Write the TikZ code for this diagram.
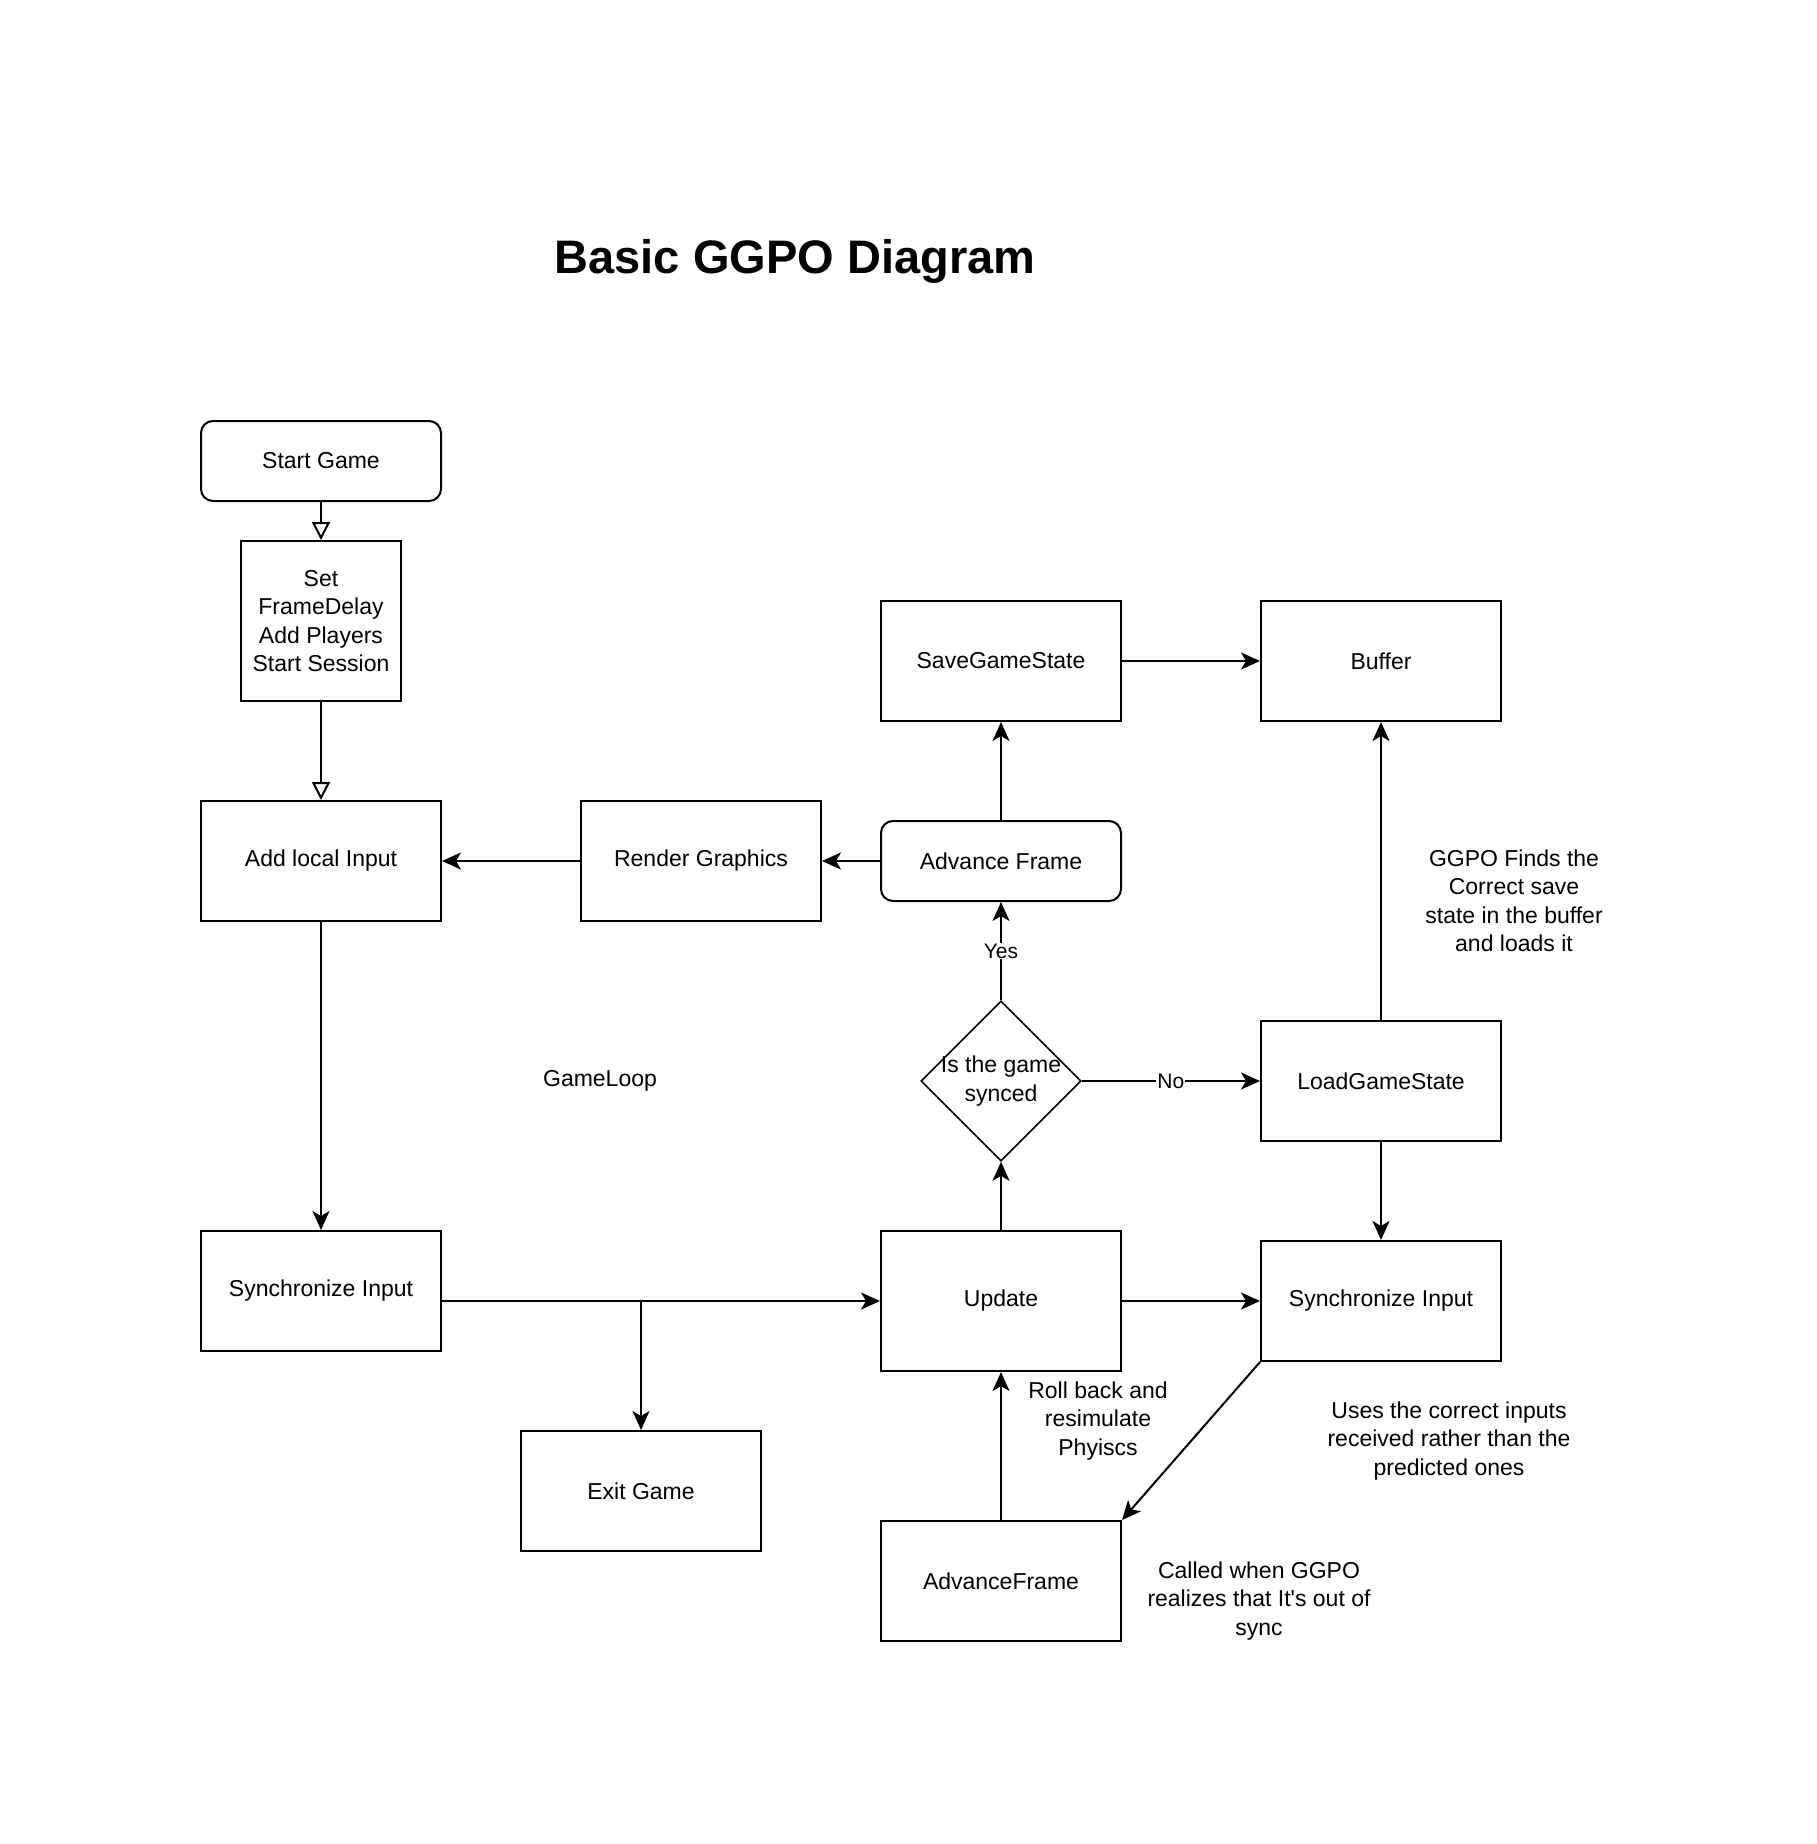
\documentclass[tikz,border=0pt]{standalone}
\usepackage{fontspec}
\setmainfont{Liberation Sans}[Ligatures=TeXOff]
\usetikzlibrary{arrows.meta,shapes.geometric}

\begin{document}
\begin{tikzpicture}[x=1pt,y=-1pt,
    box/.style={draw, line width=2pt, minimum width=240pt, minimum height=120pt, inner sep=0pt, align=center, font=\fontsize{23}{28.5}\selectfont},
    rbox/.style={box, rounded corners=12pt, minimum height=80pt},
    note/.style={align=center, font=\fontsize{23}{28.5}\selectfont},
    lbl/.style={fill=white, inner sep=1pt, font=\fontsize{21}{25}\selectfont},
    arr/.style={-{Stealth[length=19pt,width=17pt,inset=5pt]}, line width=2pt},
    openarr/.style={-{Triangle[open,length=18pt,width=18pt]}, line width=2pt}]
    \useasboundingbox (0,0) rectangle (1816,1844);

    % Title
    \node[font=\bfseries\fontsize{47}{56}\selectfont] (title) at (795,261) {Basic GGPO Diagram};

    % Setup
    \node[rbox] (start) at (321,461) {Start Game};
    \node[box, minimum width=160pt, minimum height=160pt] (setup) at (321,621) {Set\\FrameDelay\\Add Players\\Start Session};

    % Game loop boxes
    \node[box] (local) at (321,861) {Add local Input};
    \node[box] (render) at (701,861) {Render Graphics};
    \node[rbox] (adv) at (1001,861) {Advance Frame};
    \node[box] (save) at (1001,661) {SaveGameState};
    \node[box] (buffer) at (1381,661) {Buffer};
    \node[draw, diamond, line width=1.6pt, minimum width=160pt, minimum height=160pt, inner sep=0pt,
        label={[note]center:Is the game\\synced}] (synced) at (1001,1081) {};
    \node[box] (load) at (1381,1081) {LoadGameState};
    \node[box] (syncL) at (321,1291) {Synchronize Input};
    \node[box, minimum height=140pt] (update) at (1001,1301) {Update};
    \node[box] (syncR) at (1381,1301) {Synchronize Input};
    \node[box] (exit) at (641,1491) {Exit Game};
    \node[box] (advF) at (1001,1581) {AdvanceFrame};

    % Notes
    \node[note] (loop) at (600,1081) {GameLoop};
    \node[note] (finds) at (1514,901) {GGPO Finds the\\Correct save\\state in the buffer\\and loads it};
    \node[note] (roll) at (1098,1421) {Roll back and\\resimulate\\Phyiscs};
    \node[note] (uses) at (1449,1441) {Uses the correct inputs\\received rather than the\\predicted ones};
    \node[note] (called) at (1259,1601) {Called when GGPO\\realizes that It's out of\\sync};

    % Arrows
    \draw[openarr] (start) -- (setup);
    \draw[openarr] (setup) -- (local);
    \draw[arr] (render) -- (local);
    \draw[arr] (adv) -- (render);
    \draw[arr] (adv) -- (save);
    \draw[arr] (save) -- (buffer);
    \draw[arr] (synced) -- node[lbl] {Yes} (adv);
    \draw[arr] (synced) -- node[lbl] {No} (load);
    \draw[arr] (load) -- (buffer);
    \draw[arr] (load) -- (syncR);
    \draw[arr] (update) -- (synced);
    \draw[arr] (update) -- (syncR);
    \draw[arr] (local) -- (syncL);
    \draw[arr] (syncL.east |- update.west) -- (update.west);
    \draw[arr, line width=1.6pt] (exit.north |- update.west) -- (exit.north);
    \draw[arr] (syncR.south west) -- (advF.north east);
    \draw[arr] (advF) -- (update);
\end{tikzpicture}
\end{document}
